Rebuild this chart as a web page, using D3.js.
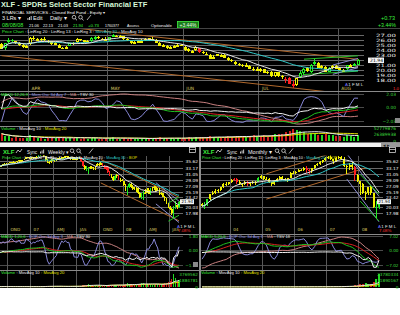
<!DOCTYPE html>
<html>
<head>
<meta charset="utf-8">
<script src="https://cdn.jsdelivr.net/npm/d3@7"></script>
<style>
body { margin: 0; background: #fff; }
svg { display: block; font-family: "DejaVu Sans", sans-serif; }
.lbl { font-family: "Liberation Sans", Arial, sans-serif; }
</style>
</head>
<body>
<svg id="chart" width="400" height="315"></svg>
<script>
// ---- daily (top) ----
const dailyMonthLabels = ["APR", "MAY", "JUN", "JUL", "AUG"];
const dailyMonthStart = [8, 30, 51, 72, 94];
const dailyPriceTicks = [27, 26, 25, 24, 23, 22, 21, 20, 19, 18];
const dailyOscTicks = [2.03, 0, -2.03];
const dailyVolMax = 52779876;
// open, high, low, close
const dailyBars = [
  [25.3,25.4,24.2,24.3],[24.4,25.5,24.1,25.4],[25.6,26.4,25.5,26.1],[26.1,26.3,25.7,26.0],
  [25.8,25.9,25.2,25.4],[25.5,25.6,24.9,25.0],[25.1,25.3,24.5,24.6],[24.6,25.1,24.4,24.9],
  [25.2,26.6,25.1,26.5],[26.5,26.8,26.0,26.2],[26.1,26.5,25.9,26.3],[26.3,26.4,25.8,26.0],
  [26.3,26.6,25.9,26.0],[25.9,26.0,25.5,25.8],[25.8,25.9,25.1,25.2],[25.2,25.6,25.0,25.4],
  [25.1,25.2,24.4,24.5],[24.5,24.7,24.2,24.4],[24.5,24.8,24.2,24.6],[24.8,25.5,24.8,25.4],
  [25.4,25.6,25.0,25.3],[25.6,26.5,25.5,26.3],[26.2,26.3,25.9,26.1],[26.0,26.1,25.5,25.7],
  [25.8,26.1,25.6,25.9],[25.9,26.6,25.7,26.4],[26.4,26.8,26.1,26.6],[26.6,26.8,26.3,26.4],
  [26.3,26.5,26.0,26.2],[26.3,26.7,25.8,25.9],[26.0,26.7,25.9,26.6],[26.8,27.3,26.7,27.0],
  [26.9,27.1,26.6,26.8],[26.6,27.0,26.4,26.9],[26.8,26.9,26.1,26.2],[26.3,26.4,25.9,26.0],
  [25.8,25.9,25.3,25.5],[25.6,25.9,25.4,25.7],[25.8,26.0,25.5,25.8],[25.9,26.3,25.8,25.9],
  [25.9,26.4,25.8,26.3],[26.4,26.5,25.9,26.0],[26.1,26.6,26.0,26.3],[26.1,26.2,25.4,25.5],
  [25.5,25.7,24.8,24.9],[24.9,25.2,24.7,25.0],[24.9,25.0,24.3,24.4],[24.4,24.8,24.2,24.6],
  [24.7,25.0,24.5,24.8],[24.8,25.3,24.7,25.1],[25.1,25.2,24.8,24.9],[24.7,24.8,23.9,24.1],
  [24.2,24.4,23.6,23.8],[23.7,24.1,23.5,23.9],[24.0,24.8,23.9,24.7],[24.4,24.5,23.5,23.6],
  [23.7,23.9,23.2,23.4],[23.3,23.6,23.0,23.2],[23.1,23.2,22.2,22.3],[22.5,23.0,22.4,22.7],
  [22.9,23.3,22.8,23.2],[23.0,23.3,22.8,23.0],[23.1,23.2,22.4,22.5],[22.4,22.6,21.9,22.0],
  [22.0,22.2,21.6,21.8],[21.7,21.8,21.1,21.2],[21.3,21.4,20.9,21.0],[21.0,21.3,20.6,20.8],
  [20.9,21.5,20.8,21.1],[20.9,21.0,20.2,20.3],[20.3,20.6,19.9,20.1],[20.2,20.6,20.0,20.3],
  [20.0,20.4,19.6,20.2],[20.2,20.3,19.4,19.5],[19.6,19.8,19.2,19.4],[19.6,19.9,18.6,18.8],
  [18.9,19.7,18.7,19.6],[19.6,19.7,18.7,18.8],[18.8,19.1,18.2,18.7],[18.3,18.6,17.5,18.0],
  [18.4,18.6,17.2,17.3],[17.2,17.9,16.4,16.9],[17.0,18.5,16.9,18.4],[18.6,19.8,18.5,19.5],
  [19.5,20.4,19.1,20.2],[20.4,20.7,19.6,19.9],[19.6,21.2,19.5,21.1],[21.2,22.3,21.1,21.7],
  [21.5,21.6,20.4,20.5],[20.5,21.0,20.2,20.8],[20.7,20.8,19.6,19.6],[19.7,20.6,19.6,20.5],
  [20.6,21.0,20.2,20.9],[20.8,21.0,20.2,20.3],[20.4,20.6,19.8,20.0],[20.0,20.3,19.7,20.0],
  [20.2,21.1,20.1,21.0],[21.0,21.3,20.7,21.0],[21.0,21.5,20.8,21.2],[21.06,22.13,21.03,21.94]
];
// millions of shares
const dailyVolume = [
  30,22,20,14,15,14,13,12,
  24,16,12,11,10,12,13,12,16,14,13,16,12,15,10,11,10,13,12,9,10,13,
  14,16,9,10,11,10,12,9,9,10,11,9,10,13,15,12,13,11,10,11,10,
  14,15,14,16,17,15,16,20,18,16,14,17,19,18,22,19,20,18,22,24,20,
  22,24,18,26,28,27,30,36,40,50,46,42,38,30,34,32,26,24,27,25,24,22,
  20,18,26,20,18,24
];
// balance of power: -1 distribution, 0 neutral, 1 accumulation
const dailyBop = [
  0,1,1,1,0,0,0,0,
  0,0,0,0,0,0,0,0,0,0,0,1,0,0,0,0,0,1,1,0,0,0,
  1,1,0,0,0,0,0,0,0,0,0,0,0,0,0,0,0,0,0,0,0,
  0,0,0,0,-1,0,0,0,0,0,0,0,0,0,0,0,0,0,0,0,0,
  0,0,0,0,0,0,0,-1,-1,-1,0,1,1,0,1,1,0,0,0,1,0,0,
  0,0,1,0,1,1
];

// ---- weekly (bottom left) ----
const weeklyQuarterLabels = ["OND", "07", "AMJ", "JAS", "OND", "08", "AMJ", "JAS"];
const weeklyQuarterStart = [5, 18, 31, 44, 57, 70, 83, 96];
const weeklyOscTicks = [1.80, 0, -1.80];
const weeklyVolMax = 3769562;
const weeklyBars = [
  [33.6,34.0,33.4,33.9],[33.9,34.3,33.7,34.1],[34.1,34.7,34.0,34.6],[34.6,34.8,34.2,34.4],[34.4,34.9,34.2,34.7],
  [34.7,35.1,34.5,35.0],[35.0,35.3,34.8,35.2],[35.2,35.4,34.9,35.3],[35.3,35.5,35.0,35.1],
  [35.1,35.4,34.8,35.3],[35.3,35.6,35.1,35.5],[35.5,35.9,35.3,35.8],[35.8,35.9,35.2,35.4],
  [35.5,36.0,35.3,35.9],[35.9,36.4,35.8,36.3],[36.3,36.9,36.2,36.8],[36.8,37.0,36.5,36.6],[36.6,36.9,36.5,36.7],
  [36.7,36.9,36.2,36.5],[36.5,37.0,36.4,36.9],[36.9,37.1,36.6,36.8],[36.8,37.2,36.5,37.1],
  [37.1,37.6,37.0,37.5],[37.5,37.8,37.3,37.6],[37.6,38.1,37.5,37.9],[37.9,38.0,37.0,37.2],
  [37.2,37.3,35.6,35.9],[35.9,36.2,35.0,35.3],[35.3,35.7,34.7,35.2],[35.2,36.2,35.1,36.0],[36.0,36.3,35.5,35.6],
  [35.6,36.1,35.4,35.9],[35.9,36.4,35.7,36.2],[36.2,36.7,35.9,36.5],[36.5,36.8,36.1,36.3],
  [36.3,36.9,36.2,36.8],[36.8,37.1,36.4,36.7],[36.7,37.3,36.6,37.2],[37.2,37.3,36.7,36.9],
  [36.9,37.2,36.6,37.0],[37.0,37.1,35.9,36.3],[36.3,37.0,36.1,36.8],[36.8,36.9,35.9,36.1],[36.1,36.5,35.8,36.2],
  [36.2,36.9,36.0,36.7],[36.7,37.0,36.2,36.6],[36.6,36.8,35.3,35.5],[35.5,35.7,33.6,33.8],
  [33.8,34.4,32.5,33.1],[33.1,33.9,32.3,32.6],[32.6,33.5,31.3,33.2],[33.2,33.9,32.9,33.7],[33.7,34.0,32.8,33.4],
  [33.4,33.7,32.6,32.8],[32.8,34.0,32.7,33.9],[33.9,35.0,33.8,34.6],[34.6,34.9,34.1,34.3],
  [34.3,35.2,34.2,35.0],[35.0,35.1,34.0,34.2],[34.2,34.4,32.9,33.1],[33.1,33.9,32.7,33.6],
  [33.6,33.8,31.5,31.8],[31.8,32.2,30.5,31.0],[31.0,31.4,29.8,30.2],[30.2,30.6,28.9,29.4],[29.4,31.0,29.2,30.6],
  [30.6,31.2,30.0,30.8],[30.8,31.0,29.2,29.5],[29.5,29.8,28.5,29.3],[29.3,29.6,28.8,28.9],
  [28.9,29.0,27.1,27.4],[27.4,27.8,25.6,26.1],[26.1,27.2,24.2,26.9],[26.9,28.3,26.5,27.8],
  [27.8,28.3,26.7,27.0],[27.0,27.4,25.9,26.3],[26.3,26.9,25.8,26.2],[26.2,26.8,25.3,26.5],[26.5,26.6,24.7,24.9],
  [24.9,25.2,23.2,23.6],[23.6,24.9,22.9,24.2],[24.2,25.6,22.6,25.0],[25.0,26.3,24.5,24.9],
  [24.9,26.6,24.8,26.0],[26.0,26.6,24.4,24.5],[24.5,26.5,24.2,26.3],[26.3,26.8,25.6,26.6],
  [26.6,27.3,25.8,27.0],[27.0,27.1,25.3,25.5],[25.5,26.4,25.4,26.0],[26.0,26.6,24.3,24.4],[24.4,25.3,24.2,24.9],
  [24.9,24.9,23.5,23.6],[23.6,23.7,22.2,23.2],[23.2,23.3,21.1,21.2],[21.2,21.5,19.9,20.1],
  [20.3,20.4,19.2,19.4],[19.4,19.7,17.5,18.0],[18.0,20.4,16.4,20.2],[20.2,22.3,19.5,20.8],
  [20.8,21.0,19.6,20.0],[20.0,22.1,19.7,21.9]
];
// thousands of shares
const weeklyVolume = [
  120,110,150,130,120, 110,120,100,110, 120,110,100,90, 110,120,130,100,80,
  110,120,110,120, 110,120,130,200, 350,300,260,220,200, 180,170,160,170, 160,170,150,160, 180,220,200,240,210,
  220,250,380,560, 720,650,800,450,380, 400,450,420,380, 400,420,480,460, 620,700,680,600,520, 560,600,520,420,
  650,800,1100,900, 780,700,650,720,820, 900,1300,1200,850, 760,820,780,700, 720,760,800,900,820,
  950,1100,1300,1400, 1600,2200,3700,2600, 1800,2000
];
const weeklyBop = [
  0,0,0,0,0, 0,0,0,0, 0,0,0,0, 0,0,0,0,0,
  0,0,0,0, 1,1,0,0, 0,0,0,0,0, 0,0,0,0, 0,0,0,0, 0,0,0,0,0,
  0,0,-1,-1, 0,1,1,0,0, 0,0,0,0, 0,-1,-1,-1, -1,-1,0,0,1, 0,-1,0,0,
  0,0,1,1, 0,0,0,0,0, 0,1,1,0, 0,0,1,0, 0,0,0,0,0, 0,0,0,0, 0,0,1,1, 0,1
];

// ---- monthly (bottom right) ----
const monthlyYearLabels = ["04", "05", "06", "07", "08"];
const monthlyYearStart = [11, 23, 35, 47, 59];
const monthlyOscTicks = [7.02, 0, -7.02];
const monthlyVolMax = 23780334;
const monthlyBars = [
  [21.2,21.5,20.1,20.5],[20.5,21.8,19.6,20.8],[20.8,23.0,20.6,22.9],[22.9,24.6,22.5,24.4],
  [24.4,25.6,24.2,25.0],[25.0,26.1,24.6,25.6],[25.6,26.2,24.9,26.0],[26.0,27.0,25.7,26.8],
  [26.8,28.2,26.6,28.0],[28.0,28.4,27.2,28.0],[28.0,28.6,27.6,28.4],
  [28.4,29.5,28.2,29.2],[29.2,30.0,28.9,29.5],[29.5,29.8,28.0,28.6],[28.6,29.3,27.5,27.8],
  [27.8,28.3,26.8,28.0],[28.0,28.8,27.6,28.6],[28.6,28.8,27.3,27.9],[27.9,28.5,27.2,28.3],
  [28.3,29.0,27.9,28.5],[28.5,28.9,27.6,28.5],[28.5,30.2,28.4,30.0],[30.0,30.8,29.6,30.5],
  [30.5,30.7,29.4,29.6],[29.6,30.1,29.3,29.5],[29.5,29.8,28.2,28.4],[28.4,28.7,27.3,27.8],
  [27.8,29.1,27.6,28.9],[28.9,29.8,28.7,29.5],[29.5,30.6,29.3,30.4],[30.4,30.5,29.1,29.4],
  [29.4,29.9,28.9,29.5],[29.5,30.0,28.5,29.9],[29.9,31.8,29.8,31.7],[31.7,32.2,31.5,31.7],
  [31.7,32.3,31.2,31.9],[31.9,32.9,31.8,32.7],[32.7,33.0,32.1,32.6],[32.6,33.6,32.3,33.4],
  [33.4,34.0,31.7,32.5],[32.5,32.8,31.2,32.3],[32.3,33.4,31.5,33.2],[33.2,34.3,32.9,34.2],
  [34.2,34.8,33.8,34.6],[34.6,35.5,34.4,35.3],[35.3,35.9,35.0,35.8],[35.8,36.9,35.6,36.7],
  [36.7,37.2,36.2,37.0],[37.0,38.1,35.9,36.2],[36.2,36.3,34.7,35.6],[35.6,36.8,35.4,36.5],
  [36.5,37.3,36.2,37.1],[37.1,37.2,35.8,36.2],[36.2,37.0,33.5,33.9],[33.9,34.4,31.3,33.6],
  [33.6,35.0,32.6,34.3],[34.3,35.2,32.7,33.5],[33.5,33.8,28.9,30.8],[30.8,31.2,28.5,28.9],
  [28.9,29.0,24.2,27.8],[27.8,28.3,24.7,24.9],[24.9,25.6,22.6,24.9],[24.9,27.0,24.2,26.9],
  [26.9,27.3,24.3,24.9],[24.9,24.9,19.9,20.3],[20.3,22.3,16.4,20.3],[20.3,22.1,19.6,21.9]
];
// thousands of shares
const monthlyVolume = [
  200,250,200,220,250,200,180,220,200,180,200,
  220,250,300,280,260,250,230,220,240,260,250,240,
  280,300,320,350,330,300,320,340,360,380,350,300,
  380,400,420,450,500,480,520,500,480,520,500,480,
  560,700,900,800,750,900,1800,2600,1800,2000,3200,3000,
  5200,5000,7500,6200,6000,9000,14000,23780
];
const monthlyBop = [
  0,1,1,0,0,0,0,0,0,0,0,
  0,-1,-1,0,0,0,-1,0,0,0,1,0,
  0,0,0,0,0,0,0,0,0,0,0,0,
  0,0,0,0,-1,-1,0,0,0,0,0,0,
  0,0,0,0,0,0,0,0,0,0,-1,0,
  0,0,0,0,0,0,1,1
];

const lowerPriceTicks = [35.62, 33.17, 31.05, 29.09, 27.09, 25.19, 23.42, 20.03, 17.98];
const lastPrice = 21.94;

// ---------------------------------------------------------------
const svg = d3.select("#chart");
const defs = svg.append("defs");
svg.append("rect").attr("width", 400).attr("height", 288).attr("fill", "#000");

const bopColor = d3.scaleOrdinal().domain([-1, 0, 1]).range(["#ff2020", "#f0f000", "#22ee22"]);
const fmt2 = d3.format(".2f");

function sma(a, n) {
  return a.map((v, i) => d3.mean(a.slice(Math.max(0, i - n + 1), i + 1)));
}
function ema(a, n) {
  const k = 2 / (n + 1);
  let e;
  return a.map((v, i) => (e = i ? v * k + e * (1 - k) : v));
}
function regChannel(bars, i0, i1) {
  const pts = d3.range(i0, i1 + 1);
  const mx = d3.mean(pts), my = d3.mean(pts, i => bars[i][3]);
  const b = d3.sum(pts, i => (i - mx) * (bars[i][3] - my)) / d3.sum(pts, i => (i - mx) ** 2);
  const a = my - b * mx;
  return {
    a, b,
    up: d3.max(pts, i => bars[i][1] - (a + b * i)),
    dn: d3.max(pts, i => (a + b * i) - bars[i][2])
  };
}

// multi-colour text: one text element per coloured part, laid end to end;
// with a target length the font size is shrunk until the whole line fits
function label(g, x, y, parts, size, len) {
  const ts = parts.map(p => g.append("text").attr("class", "lbl").attr("y", y)
    .attr("font-size", size).attr("fill", p[1]).attr("xml:space", "preserve").text(p[0]));
  const widths = () => ts.map(t => t.node().getComputedTextLength());
  if (len) {
    const s = size * Math.min(1, len / d3.sum(widths()));
    ts.forEach(t => t.attr("font-size", s));
  }
  let cx = x;
  widths().forEach((w, i) => { ts[i].attr("x", cx); cx += w + 0.3; });
  return ts[0];
}

function drawChart(c) {
  const g = svg.append("g");
  const x = c.x, y = c.y;
  const step = x(1) - x(0);
  const closes = c.bars.map(d => d[3]);

  defs.append("clipPath").attr("id", "clip" + c.id)
    .append("rect").attr("x", c.x0).attr("y", c.priceTop)
    .attr("width", c.x1 - c.x0).attr("height", c.volBottom - c.priceTop);
  defs.append("clipPath").attr("id", "pclip" + c.id)
    .append("rect").attr("x", c.x0).attr("y", c.priceTop)
    .attr("width", c.x1 - c.x0).attr("height", c.oscTop - c.priceTop);

  const grid = g.append("g").attr("shape-rendering", "crispEdges");
  grid.selectAll(".h").data(c.priceTicks).join("line")
    .attr("x1", c.x0).attr("x2", c.x1 + 2)
    .attr("y1", d => y(d)).attr("y2", d => y(d))
    .attr("stroke", "#686868");
  grid.selectAll(".o").data(c.oscTicks).join("line")
    .attr("x1", c.x0).attr("x2", c.x1 + 2)
    .attr("y1", d => c.yOsc(d)).attr("y2", d => c.yOsc(d))
    .attr("stroke", "#4a4a4a");
  grid.selectAll(".v").data(c.vlines).join("line")
    .attr("x1", d => x(d) - step / 2).attr("x2", d => x(d) - step / 2)
    .attr("y1", c.priceTop).attr("y2", c.volBottom)
    .attr("stroke", "#585858");
  grid.selectAll(".s").data([c.oscTop, c.volTop]).join("line")
    .attr("x1", c.x0).attr("x2", c.sepRight)
    .attr("y1", d => d).attr("y2", d => d)
    .attr("stroke", "#8a8a8a");

  const price = g.append("g").attr("clip-path", `url(#pclip${c.id})`);

  // regression channels
  c.channels.forEach(ch => {
    const r = regChannel(c.bars, ch.i0, ch.i1);
    const iEnd = ch.i1 + (ch.ext || 0);
    [r.up, -r.dn].forEach(off => {
      price.append("line")
        .attr("x1", x(ch.i0)).attr("x2", x(iEnd))
        .attr("y1", y(r.a + r.b * ch.i0 + off)).attr("y2", y(r.a + r.b * iEnd + off))
        .attr("stroke", ch.color).attr("stroke-width", 1);
    });
  });

  // candles
  const cg = price.append("g").attr("shape-rendering", "crispEdges");
  cg.selectAll("line").data(c.bars).join("line")
    .attr("x1", (d, i) => x(i)).attr("x2", (d, i) => x(i))
    .attr("y1", d => y(d[1])).attr("y2", d => y(d[2]))
    .attr("stroke", (d, i) => bopColor(c.bop[i]));
  const bw = c.bodyW;
  cg.selectAll("rect").data(c.bars).join("rect")
    .each(function (d, i) {
      const hol = c.hollow && d[3] >= d[0];
      const top = y(Math.max(d[0], d[3]));
      const h = Math.max(1, Math.abs(y(d[0]) - y(d[3])));
      d3.select(this)
        .attr("x", x(i) - bw / 2 + (hol ? 0.5 : 0))
        .attr("y", top + (hol ? 0.5 : 0))
        .attr("width", bw - (hol ? 1 : 0))
        .attr("height", Math.max(1, h - (hol ? 1 : 0)))
        .attr("fill", hol ? "#000" : bopColor(c.bop[i]))
        .attr("stroke", hol ? bopColor(c.bop[i]) : "none");
    });

  // moving averages
  const line = d3.line().x((d, i) => x(i));
  price.append("path").attr("d", line.y(d => y(d))(sma(closes, c.maSlow)))
    .attr("fill", "none").attr("stroke", "#30c8c8").attr("stroke-width", 1);
  price.append("path").attr("d", line.y(d => y(d))(sma(closes, c.maFast)))
    .attr("fill", "none").attr("stroke", "#e8e8e8").attr("stroke-width", 1);

  // oscillators
  const osc = g.append("g").attr("clip-path", `url(#clip${c.id})`);
  const oTop = c.oscTop + 3, oBot = c.oscBottom - 2;
  const e1 = ema(closes, 12), e2 = ema(closes, 26);
  const macd = e1.map((v, i) => v - e2[i]);
  const signal = ema(macd, 9);
  const mM = d3.max(macd.concat(signal), Math.abs) * 1.05;
  const yM = d3.scaleLinear([-mM, mM], [oBot, oTop]);
  const stoch = sma(c.bars.map((d, i) => {
    const w = c.bars.slice(Math.max(0, i - 6), i + 1);
    const lo = d3.min(w, b => b[2]), hi = d3.max(w, b => b[1]);
    return (d[3] - lo) / (hi - lo) * 100;
  }), 3);
  const yS = d3.scaleLinear([0, 100], [oBot, oTop]);
  const flow = closes.map((v, i) => i ? (v - closes[i - 1]) * c.vol[i] : 0);
  const tsv = sma(flow, c.tsvN);
  const mT = d3.max(tsv, Math.abs) * 1.05;
  const yT = d3.scaleLinear([-mT, mT], [oBot, oTop]);
  const pma = sma(closes, 10);
  const yPk = d3.scaleLinear(d3.extent(pma), [oBot, oTop]);
  [[pma, yPk, "#c88080"], [stoch, yS, "#8888d8"], [signal, yM, "#d82020"],
   [macd, yM, "#20c020"], [tsv, yT, "#f4f4f4"]].forEach(([s, sc, col]) => {
    osc.append("path").attr("d", d3.line().x((d, i) => x(i)).y(d => sc(d))(s))
      .attr("fill", "none").attr("stroke", col).attr("stroke-width", 1);
  });

  // volume
  const vg = osc.append("g").attr("shape-rendering", "crispEdges");
  vg.selectAll("rect").data(c.vol).join("rect")
    .attr("x", (d, i) => x(i) - c.volW / 2).attr("width", c.volW)
    .attr("y", d => c.yVol(d)).attr("height", d => c.yVol(0) - c.yVol(d))
    .attr("fill", (d, i) => (closes[i] >= (i ? closes[i - 1] : c.bars[0][0])) ? "#22d822" : "#d41c1c");
  osc.append("path").attr("d", d3.line().x((d, i) => x(i)).y(d => c.yVol(d))(sma(c.vol, 20)))
    .attr("fill", "none").attr("stroke", "#e0e000").attr("stroke-width", 1);
  osc.append("path").attr("d", d3.line().x((d, i) => x(i)).y(d => c.yVol(d))(sma(c.vol, 10)))
    .attr("fill", "none").attr("stroke", "#e8e8e8").attr("stroke-width", 1);

  // axis texts (the last-price box hides the tick it sits on)
  const tx = g.append("g").attr("text-anchor", "end");
  const shown = c.priceTicks.filter(d => Math.abs(y(d) - y(lastPrice)) > 3);
  tx.selectAll(".pt").data(shown).join("text")
    .attr("x", c.labelX).attr("y", d => y(d) + c.tickSize * 0.36)
    .attr("font-size", c.tickSize).attr("fill", "#f0f0f0")
    .attr("textLength", c.tickLen).attr("lengthAdjust", "spacingAndGlyphs")
    .text(d => fmt2(d));
  tx.selectAll(".ot").data(c.oscTicks).join("text")
    .attr("x", c.labelX).attr("y", d => c.yOsc(d) + c.smallSize * 0.36)
    .attr("font-size", c.smallSize).attr("fill", "#3cd83c").text(d => fmt2(d));
  const vmax = c.volMax / c.volUnit;
  tx.selectAll(".vt").data([vmax, vmax / 2, 0]).join("text")
    .attr("x", c.labelX).attr("y", d => c.yVol(d) + c.smallSize * 0.36)
    .attr("font-size", c.smallSize).attr("fill", "#3cd83c")
    .text(d => Math.round(d * c.volUnit));

  g.append("rect").attr("x", c.boxX).attr("y", y(lastPrice) - c.boxH / 2)
    .attr("width", c.boxW).attr("height", c.boxH).attr("fill", "#f4f4f4");
  g.append("text").attr("x", c.boxX + c.boxW - 1).attr("y", y(lastPrice) + 1.6)
    .attr("text-anchor", "end").attr("font-size", c.boxH - 1).attr("fill", "#000")
    .text(fmt2(lastPrice));

  g.selectAll(".xl").data(c.vlines).join("text")
    .attr("x", d => x(d) - step / 2 + 3).attr("y", c.xLabelY)
    .attr("font-size", c.smallSize).attr("fill", "#d8c860")
    .text((d, i) => c.vlabels[i]);

  label(g, c.flagX, c.flagY, [["A", "#7070ff"], ["1 F M L", "#e0e0e0"]], 4.4);
  if (c.flagText) label(g, c.flagX + 1, c.flagY + 4.5, [[c.flagText, "#ff3030"]], 4.4);
}

// ---------------- top daily chart ----------------
drawChart({
  id: "d", bars: dailyBars, vol: dailyVolume, volUnit: 1e6, volMax: dailyVolMax, bop: dailyBop,
  x: d3.scaleLinear([0, dailyBars.length - 1], [1.5, 358]),
  y: d3.scaleLinear([18, 27], [80, 35]),
  x0: 0, x1: 362, labelX: 396, sepRight: 400,
  priceTop: 29, oscTop: 91, oscBottom: 126, volTop: 126, volBottom: 142,
  yOsc: d3.scaleLinear([-2.03, 2.03], [121, 94]),
  yVol: d3.scaleLinear([0, dailyVolMax / 1e6], [141, 128]),
  priceTicks: dailyPriceTicks, oscTicks: dailyOscTicks,
  vlines: dailyMonthStart, vlabels: dailyMonthLabels, xLabelY: 90,
  bodyW: 3, volW: 2, hollow: true, tickSize: 4.4, tickLen: 20, smallSize: 4.4,
  maFast: 10, maSlow: 30, tsvN: 30,
  channels: [{ i0: 0, i1: 99, color: "#b0682c" }, { i0: 84, i1: 99, color: "#28c028" },
             { i0: 92, i1: 99, color: "#8c8cd0" }],
  boxX: 368, boxW: 16, boxH: 5.5, flagX: 345, flagY: 86, flagText: ""
});

// ---------------- bottom weekly / monthly ----------------
const lowY = d3.scaleLinear([17.98, 35.62], [213.5, 161]);
drawChart({
  id: "w", bars: weeklyBars, vol: weeklyVolume, volUnit: 1e3, volMax: weeklyVolMax, bop: weeklyBop,
  x: d3.scaleLinear([0, weeklyBars.length - 1], [-0.5, 179]),
  y: lowY,
  x0: 0, x1: 181, labelX: 198, sepRight: 199,
  priceTop: 155.5, oscTop: 234, oscBottom: 270, volTop: 270, volBottom: 288,
  yOsc: d3.scaleLinear([-1.8, 1.8], [265, 236.5]),
  yVol: d3.scaleLinear([0, weeklyVolMax / 1e3], [287, 274]),
  priceTicks: lowerPriceTicks, oscTicks: weeklyOscTicks,
  vlines: weeklyQuarterStart, vlabels: weeklyQuarterLabels, xLabelY: 231,
  bodyW: 1.6, volW: 1.2, hollow: false, tickSize: 4.2, tickLen: 12.5, smallSize: 4.2,
  maFast: 10, maSlow: 30, tsvN: 30,
  channels: [{ i0: 57, i1: 101, color: "#b0682c" }, { i0: 88, i1: 101, color: "#8c8cd0" },
             { i0: 95, i1: 101, color: "#28c028" }],
  boxX: 180, boxW: 14, boxH: 5, flagX: 177, flagY: 227.5, flagText: "7.08%"
});
drawChart({
  id: "m", bars: monthlyBars, vol: monthlyVolume, volUnit: 1e3, volMax: monthlyVolMax, bop: monthlyBop,
  x: d3.scaleLinear([0, monthlyBars.length - 1], [202, 379]),
  y: lowY,
  x0: 201, x1: 381, labelX: 398.5, sepRight: 400,
  priceTop: 155.5, oscTop: 234, oscBottom: 270, volTop: 270, volBottom: 288,
  yOsc: d3.scaleLinear([-7.02, 7.02], [265, 236.5]),
  yVol: d3.scaleLinear([0, monthlyVolMax / 1e3], [287, 274]),
  priceTicks: lowerPriceTicks, oscTicks: monthlyOscTicks,
  vlines: monthlyYearStart, vlabels: monthlyYearLabels, xLabelY: 231,
  bodyW: 2, volW: 2, hollow: false, tickSize: 4.2, tickLen: 12.5, smallSize: 4.2,
  maFast: 10, maSlow: 20, tsvN: 18,
  channels: [{ i0: 24, i1: 54, ext: 7, color: "#b0682c" }, { i0: 54, i1: 66, color: "#8c8cd0" },
             { i0: 59, i1: 66, color: "#28c028" }],
  boxX: 377, boxW: 14, boxH: 5, flagX: 378, flagY: 227.5, flagText: "7.08%"
});

// ---------------- headers and labels ----------------
const hd = svg.append("g");
label(hd, 1, 7, [["XLF - SPDRs Select Sector Financial ETF", "#d8f8d8"]], 7.5, 147).attr("font-weight", "bold");
label(hd, 2, 13.5, [["FINANCIAL SERVICES - Closed End Fund - Equity \u25be", "#f4f4f4"]], 5.5, 104);
label(hd, 2, 20.3, [["3 LRs \u25be", "#f4f4f4"]], 5.5, 19);
label(hd, 33, 20.3, [["Edit", "#f4f4f4"]], 5.5, 11);
label(hd, 50, 20.3, [["Daily \u25be", "#f4f4f4"]], 5.5, 19);
[
  ["08/08/08", "#3cf03c", 2, 23], ["21.06", "#f4f4f4", 29, 10], ["22.13", "#f4f4f4", 43, 10],
  ["21.03", "#f4f4f4", 58, 10], ["21.94", "#3cf03c", 73, 10], ["+0.73", "#3cf03c", 88, 11],
  ["1760377", "#f4f4f4", 105, 14], ["Assess", "#f4f4f4", 127, 12], ["Optionable", "#f4f4f4", 151, 21]
].forEach(t => label(hd, t[2], 27, [[t[0], t[1]]], 5.5, t[3]));
hd.append("rect").attr("x", 177.5).attr("y", 21.5).attr("width", 21).attr("height", 6.5)
  .attr("fill", "#1a7a1a").attr("stroke", "#40f040").attr("stroke-width", 0.8);
label(hd, 179.5, 26.6, [["+3.44%", "#e8ffe8"]], 5.2, 17);
label(hd, 381, 20, [["+0.73", "#3cf03c"]], 5.6, 14);
label(hd, 378, 26.5, [["+3.44%", "#3cf03c"]], 5.6, 18);
hd.append("line").attr("x1", 0).attr("x2", 400).attr("y1", 28.5).attr("y2", 28.5).attr("stroke", "#444");

function icons(g, barX, magX, penX, y0) {
  // bar glyph, two magnifiers and pencil
  [0, 1.6, 3.2].forEach((dx, i) => g.append("rect").attr("x", barX + dx).attr("y", y0 - 2 - i).attr("width", 0.9).attr("height", 2 + i).attr("fill", "#ddd"));
  [0, 6.5].forEach(dx => {
    g.append("circle").attr("cx", magX + dx).attr("cy", y0 - 2.8).attr("r", 1.8).attr("fill", "none").attr("stroke", "#eee").attr("stroke-width", 0.7);
    g.append("line").attr("x1", magX + dx + 1.2).attr("y1", y0 - 1.5).attr("x2", magX + dx + 3).attr("y2", y0 + 0.3).attr("stroke", "#eee").attr("stroke-width", 0.8);
  });
  g.append("line").attr("x1", penX).attr("y1", y0).attr("x2", penX + 4).attr("y2", y0 - 5).attr("stroke", "#eee").attr("stroke-width", 0.7);
}
icons(hd, 27.5, 74, 87, 20);
label(hd, 2, 32.8, [["Price Chart", "#3cf03c"], [" : LinReg 20 : LinReg 13 : LinReg 3 : ", "#f0f0f0"], ["MovAvg 30", "#30c8c8"], [" : MovAvg 10", "#f0f0f0"]], 4.5, 140);
label(hd, 1, 96, [["MACD 12,26,9", "#3cf03c"], [" : Mom Osc 3d Avg 7", "#9090e0"], [" : MA", "#d08888"], [" : TSV 30", "#f0f0f0"]], 4.5, 92);
label(hd, 1, 129.5, [["Volume", "#3cf03c"], [" : MovAvg 10", "#f0f0f0"], [" : MovAvg 20", "#e0e000"]], 4.5, 65);
label(hd, 393, 89.5, [["1.0", "#ff3030"]], 4.4, 6);

// scrollbar between the two halves
hd.append("rect").attr("x", 0).attr("y", 142.5).attr("width", 400).attr("height", 4.5).attr("fill", "#f2f2f2");
hd.append("rect").attr("x", 381).attr("y", 142.5).attr("width", 19).attr("height", 4.5).attr("fill", "#9a9a9a");
label(hd, 383, 146.5, [["\u25c2 \u25b8", "#222"]], 4.5);
hd.append("rect").attr("x", 395).attr("y", 118).attr("width", 5).attr("height", 5).attr("fill", "#8a8a8a");

// bottom headers
[[0, "Weekly", " : LinReg 20 : LinReg 11 : LinReg 3 : MovAvg 20 : ", "MovAvg 30", "MACD 1,20,6", " : TSV 30"],
 [200, "Monthly", " : LinReg 20 : LinReg 11 : LinReg 3 : MovAvg 10 : ", "MovAvg 20", "MACD 5,20,9", " : TSV 18"]]
  .forEach(h => {
    const ox = h[0];
    label(hd, ox + 3, 154, [["XLF", "#3cf03c"]], 7, 11).attr("font-weight", "bold");
    hd.append("polyline").attr("points", `${ox + 16},153 ${ox + 18},150 ${ox + 20},152 ${ox + 22},149`)
      .attr("fill", "none").attr("stroke", "#ddd").attr("stroke-width", 0.8);
    label(hd, ox + 27, 153.5, [["Sync", "#f0f0f0"]], 5.5, 10);
    label(hd, ox + 48, 153.5, [[h[1] + " \u25be", "#f0f0f0"]], 5.5, h[1] === "Weekly" ? 21 : 25);
    icons(hd, ox + 40, ox + (h[1] === "Weekly" ? 72 : 77), ox + 89, 153.5);
    hd.append("rect").attr("x", ox + 189.5).attr("y", 147.5).attr("width", 6).attr("height", 5).attr("fill", "none").attr("stroke", "#eee").attr("stroke-width", 0.7);
    hd.append("line").attr("x1", ox + 189.5).attr("x2", ox + 195.5).attr("y1", 149.5).attr("y2", 149.5).attr("stroke", "#eee").attr("stroke-width", 0.7);
    label(hd, ox + 2, 159, [["Price Chart", "#3cf03c"], [h[2], "#f0f0f0"], [h[3], "#30c8c8"], [" : ", "#f0f0f0"], ["BOP", "#e0e000"]], 4.2, 134);
    label(hd, ox + 1, 238, [[h[4], "#3cf03c"], [" : BOP Osc 3d Avg 3", "#9090e0"], [" : MA", "#d08888"], [h[5], "#f0f0f0"]], 4.2, 88);
    label(hd, ox + 1, 274, [["Volume", "#3cf03c"], [" : MovAvg 10", "#f0f0f0"], [" : MovAvg 20", "#e0e000"]], 4.2, 66);
  });
hd.append("rect").attr("x", 193).attr("y", 262).attr("width", 5).attr("height", 5).attr("fill", "#8a8a8a");
hd.append("rect").attr("x", 199).attr("y", 147).attr("width", 2).attr("height", 141).attr("fill", "#8c8c8c");
</script>
</body>
</html>
